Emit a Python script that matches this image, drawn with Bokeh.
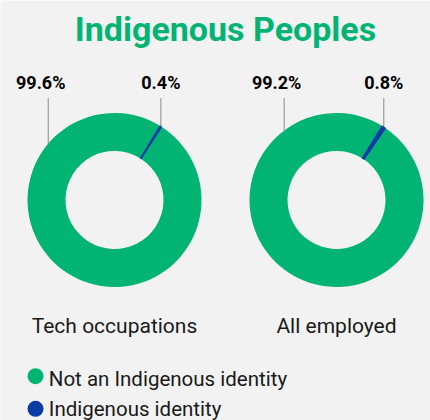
import math
from bokeh.plotting import figure
from bokeh.models import Range1d, ColumnDataSource
from bokeh.core.properties import value
from bokeh.embed import file_html
from bokeh.resources import INLINE

# ---- data ----
title = "Indigenous Peoples"
categories = ["Tech occupations", "All employed"]
not_indigenous = [99.6, 99.2]
indigenous = [0.4, 0.8]
series_names = ["Not an Indigenous identity", "Indigenous identity"]

# ---- style / layout ----
GREEN = "#02b474"
BLUE = "#0a3ba6"
BG = "#f1f2f1"
TXT = "#1a1a1a"
W, H = 430, 420
centers_x = [114, 336]
center_y = H - 199.5
R_OUT, R_IN = 87, 49
start_deg = 31.5            # clockwise from 12 o'clock, where the small slice starts
big_anchor_deg = [310.4, 323.0]
label_y = H - 89 + 7
leader_top = H - 97.7
FONT = "Roboto"

p = figure(width=W, height=H, output_backend="svg", toolbar_location=None,
           x_range=Range1d(0, W), y_range=Range1d(0, H),
           x_axis_type=None, y_axis_type=None, min_border=0,
           background_fill_color=BG, border_fill_color=BG, outline_line_color=None)
p.grid.visible = False

def bokeh_angle(clock_deg):
    return math.radians(90 - clock_deg)

xs, ys, sa, ea, cols = [], [], [], [], []
lx0, ly0, lx1, ly1 = [], [], [], []
tx, ty, tt, toff = [], [], [], []
for i, cx in enumerate(centers_x):
    small = indigenous[i] * 3.6
    # big slice
    xs.append(cx); ys.append(center_y)
    sa.append(bokeh_angle(start_deg + 360)); ea.append(bokeh_angle(start_deg + small)); cols.append(GREEN)
    # small slice (clockwise from start_deg)
    xs.append(cx); ys.append(center_y)
    sa.append(bokeh_angle(start_deg + small)); ea.append(bokeh_angle(start_deg)); cols.append(BLUE)
    # leaders
    mid = math.radians(start_deg + small / 2)
    ax, ay = cx + R_OUT * math.sin(mid), center_y + R_OUT * math.cos(mid)
    lx0.append(ax); ly0.append(ay); lx1.append(ax); ly1.append(leader_top)
    tx.append(ax); ty.append(label_y); tt.append(f"{indigenous[i]}%"); toff.append(0)
    b = math.radians(big_anchor_deg[i])
    bx, by = cx + R_OUT * math.sin(b), center_y + R_OUT * math.cos(b)
    lx0.append(bx); ly0.append(by); lx1.append(bx); ly1.append(leader_top)
    tx.append(bx); ty.append(label_y); tt.append(f"{not_indigenous[i]}%"); toff.append(-7.5)

p.segment(x0=lx0, y0=ly0, x1=lx1, y1=ly1, line_color="#8a8a8a", line_width=1)
p.annular_wedge(x=xs, y=ys, inner_radius=R_IN, outer_radius=R_OUT,
                start_angle=sa, end_angle=ea, direction="anticlock",
                fill_color=cols, line_color=cols, line_width=[0, 1, 0, 1])

src = ColumnDataSource(dict(x=tx, y=ty, t=tt, o=toff))
p.text(x="x", y="y", text="t", x_offset="o", source=src, text_align="center",
       text_baseline="alphabetic", text_font=value(FONT), text_font_style="bold",
       text_font_size="18px", text_color="#000000")

# title
p.text(x=[sum(centers_x) / 2], y=[H - 38.3 + 10], text=[title], text_align="center",
       text_baseline="alphabetic", text_font=value(FONT), text_font_style="bold",
       text_font_size="34px", text_color=GREEN)

# category labels
p.text(x=centers_x, y=[H - 333 + 8] * 2, text=categories, text_align="center",
       text_baseline="alphabetic", text_font=value(FONT), text_font_size="21px",
       text_color=TXT)

# legend
leg_y_dot = [H - 375.7, H - 408.3]
leg_y_txt = [H - 385 + 7, H - 415 + 7]
p.scatter(x=[35, 35], y=leg_y_dot, size=16, marker="circle",
          fill_color=[GREEN, BLUE], line_color=None)
p.text(x=[48.3, 48.3], y=leg_y_txt, text=series_names, text_align="left",
       text_baseline="alphabetic", text_font=value(FONT), text_font_size="20.5px",
       text_color=TXT)

html = file_html(p, INLINE)
html = html.replace("<body", f'<body style="background:{BG}"', 1)
open("out.html", "w").write(html)
